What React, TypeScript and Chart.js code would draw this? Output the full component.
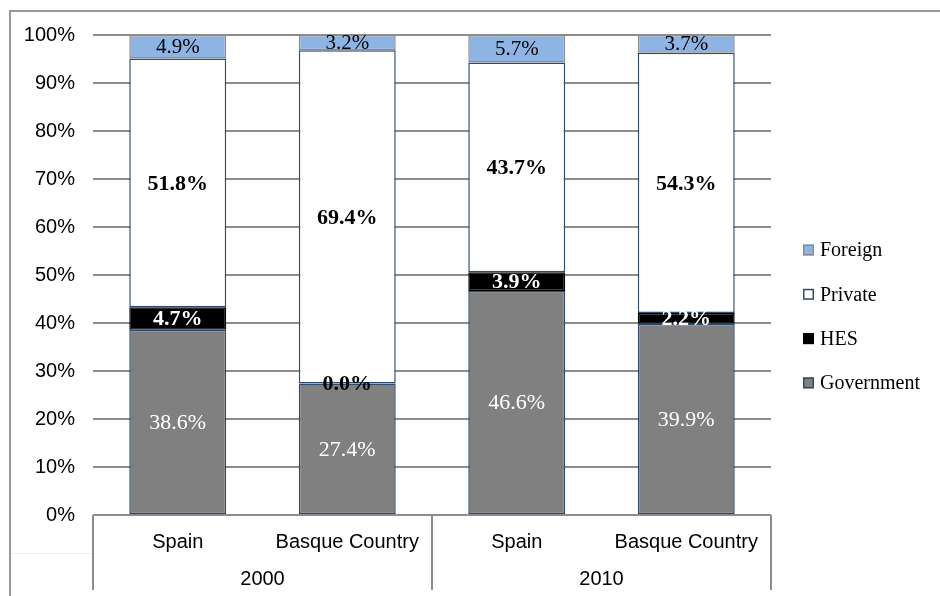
import React, { useEffect, useRef } from "react";
import { Chart, registerables } from "chart.js";

Chart.register(...registerables);

const categories = ["Spain", "Basque Country", "Spain", "Basque Country"];
const groups = ["2000", "2010"];
const government = [38.6, 27.4, 46.6, 39.9];
const hes = [4.7, 0.0, 3.9, 2.2];
const privateShare = [51.8, 69.4, 43.7, 54.3];
const foreign = [4.9, 3.2, 5.7, 3.7];
const yTicks = [0, 10, 20, 30, 40, 50, 60, 70, 80, 90, 100];

const SERIES = [
  { label: "Government", data: government, bg: "#808080", border: "#2E4A6E", labelColor: "#ffffff", labelFont: "normal 22px 'Liberation Serif'" },
  { label: "HES", data: hes, bg: "#000000", border: "#000000", labelColor: "#ffffff", labelFont: "bold 22px 'Liberation Serif'" },
  { label: "Private", data: privateShare, bg: "#ffffff", border: "#2E4A6E", labelColor: "#000000", labelFont: "bold 22px 'Liberation Serif'" },
  { label: "Foreign", data: foreign, bg: "#8EB4E3", border: "#8C8C8C", labelColor: "#000000", labelFont: "normal 21px 'Liberation Serif'" },
];

const totals = categories.map((_, i) => SERIES.reduce((s, d) => s + d.data[i], 0));

const labelPlugin = {
  id: "segLabels",
  afterDatasetsDraw(chart: any) {
    const ctx = chart.ctx;
    ctx.save();
    ctx.textAlign = "center";
    ctx.textBaseline = "middle";
    SERIES.forEach((s, di) => {
      const meta = chart.getDatasetMeta(di);
      meta.data.forEach((el: any, i: number) => {
        const v = s.data[i];
        const cy = (el.y + el.base) / 2;
        ctx.font = s.labelFont;
        ctx.fillStyle = v === 0 ? "#000000" : s.labelColor;
        ctx.fillText(v.toFixed(1) + "%", el.x, cy + 1);
      });
    });
    ctx.restore();
  },
};

const framePlugin = {
  id: "frameAndAxis",
  afterDraw(chart: any) {
    const ctx = chart.ctx;
    const area = chart.chartArea;
    const xs = chart.scales.x;
    ctx.save();
    // outer frame
    ctx.strokeStyle = "#999999";
    ctx.lineWidth = 2;
    ctx.beginPath();
    ctx.moveTo(10, 600);
    ctx.lineTo(10, 11);
    ctx.lineTo(942, 11);
    ctx.stroke();

    // axis lines
    ctx.strokeStyle = "#8C8C8C";
    ctx.lineWidth = 2;
    const bottomY = 590;
    const mid = (xs.getPixelForValue(1) + xs.getPixelForValue(2)) / 2;
    const bounds = [area.left, mid, area.right];
    ctx.beginPath();
    ctx.moveTo(area.left, area.bottom);
    ctx.lineTo(area.right, area.bottom);
    bounds.forEach((bx) => {
      ctx.moveTo(bx, area.bottom);
      ctx.lineTo(bx, bottomY);
    });
    ctx.stroke();

    // faint level separator
    ctx.strokeStyle = "#EDEDED";
    ctx.lineWidth = 1;
    ctx.beginPath();
    ctx.moveTo(11, 553.5);
    ctx.lineTo(area.left - 1, 553.5);
    ctx.stroke();

    // category labels
    ctx.fillStyle = "#000000";
    ctx.textAlign = "center";
    ctx.textBaseline = "middle";
    ctx.font = "20px 'Liberation Sans'";
    categories.forEach((c, i) => {
      ctx.fillText(c, xs.getPixelForValue(i), 542);
    });
    groups.forEach((g, gi) => {
      const cx = (bounds[gi] + bounds[gi + 1]) / 2;
      ctx.fillText(g, cx, 579);
    });

    // legend
    const lx = 803;
    const ly0 = 250;
    const step = 44.3;
    ctx.textAlign = "left";
    ctx.font = "20px 'Liberation Serif'";
    [...SERIES].reverse().forEach((s, k) => {
      const y = ly0 + k * step;
      ctx.fillStyle = s.bg;
      ctx.fillRect(lx, y - 5.5, 11, 11);
      ctx.strokeStyle = s.border;
      ctx.lineWidth = 1.5;
      ctx.strokeRect(lx + 0.75, y - 4.75, 9.5, 9.5);
      ctx.fillStyle = "#000000";
      ctx.fillText(s.label, lx + 17, y + 1);
    });
    ctx.restore();
  },
};

export default function App() {
  const ref = useRef<HTMLCanvasElement | null>(null);
  useEffect(() => {
    if (!ref.current) return;
    const chart = new Chart(ref.current, {
      type: "bar",
      data: {
        labels: categories,
        datasets: SERIES.map((s) => ({
          label: s.label,
          data: s.data.map((v, i) => (v / totals[i]) * 100),
          backgroundColor: s.bg,
          borderColor: s.border,
          borderWidth: 1.5,
          borderSkipped: false,
          barPercentage: 0.572,
          categoryPercentage: 1,
        })),
      },
      options: {
        responsive: false,
        animation: false,
        devicePixelRatio: 1,
        layout: { padding: { left: 0, right: 169, top: 35, bottom: 81 } },
        plugins: { legend: { display: false }, tooltip: { enabled: false } },
        scales: {
          x: { stacked: true, display: false },
          y: {
            stacked: true,
            min: 0,
            max: 100,
            afterFit: (s: any) => {
              s.width = 93;
            },
            afterBuildTicks: (s: any) => {
              s.ticks = yTicks.map((v) => ({ value: v }));
            },
            ticks: {
              padding: 18,
              color: "#000000",
              font: { family: "'Liberation Sans'", size: 20 },
              callback: (v: any) => v + "%",
            },
            grid: { color: "#8C8C8C", lineWidth: 2, drawTicks: false },
            border: { display: false },
          },
        },
      },
      plugins: [labelPlugin, framePlugin],
    });
    return () => chart.destroy();
  }, []);
  return (
    <div style={{ position: "absolute", left: 0, top: 0, width: 940, height: 596, background: "#ffffff" }}>
      <canvas ref={ref} width={940} height={596} style={{ display: "block" }} />
    </div>
  );
}
